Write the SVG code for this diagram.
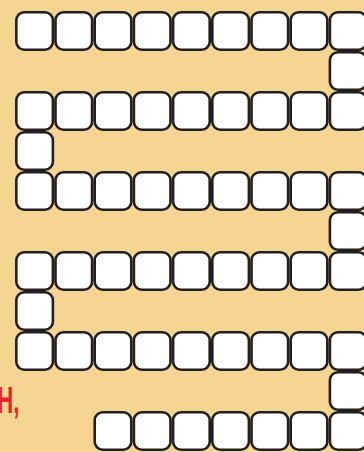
<svg xmlns="http://www.w3.org/2000/svg" xmlns:xlink="http://www.w3.org/1999/xlink" width="364" height="452" viewBox="0 0 364 452">
<style>
.t{fill:#fff;stroke:#231f20;stroke-width:2.6}
.lbl{font-family:"Liberation Sans",Arial,sans-serif;font-weight:bold;font-size:37px;fill:#e8212a}
</style>
<defs>
<rect id="tile" x="1.3" y="1.3" width="36.6" height="37.4" rx="8" ry="8" class="t"/>
</defs>
<rect width="364" height="452" fill="#f6d491"/>
<g id="row1">
<use xlink:href="#tile" x="15" y="11"/><use xlink:href="#tile" x="54.2" y="11"/><use xlink:href="#tile" x="93.4" y="11"/><use xlink:href="#tile" x="132.6" y="11"/><use xlink:href="#tile" x="171.8" y="11"/><use xlink:href="#tile" x="211" y="11"/><use xlink:href="#tile" x="250.2" y="11"/><use xlink:href="#tile" x="289.4" y="11"/><use xlink:href="#tile" x="328.6" y="11"/>
</g>
<g id="link1"><use xlink:href="#tile" x="328.6" y="51"/></g>
<g id="row2">
<use xlink:href="#tile" x="15" y="91"/><use xlink:href="#tile" x="54.2" y="91"/><use xlink:href="#tile" x="93.4" y="91"/><use xlink:href="#tile" x="132.6" y="91"/><use xlink:href="#tile" x="171.8" y="91"/><use xlink:href="#tile" x="211" y="91"/><use xlink:href="#tile" x="250.2" y="91"/><use xlink:href="#tile" x="289.4" y="91"/><use xlink:href="#tile" x="328.6" y="91"/>
</g>
<g id="link2"><use xlink:href="#tile" x="15" y="131"/></g>
<g id="row3">
<use xlink:href="#tile" x="15" y="171"/><use xlink:href="#tile" x="54.2" y="171"/><use xlink:href="#tile" x="93.4" y="171"/><use xlink:href="#tile" x="132.6" y="171"/><use xlink:href="#tile" x="171.8" y="171"/><use xlink:href="#tile" x="211" y="171"/><use xlink:href="#tile" x="250.2" y="171"/><use xlink:href="#tile" x="289.4" y="171"/><use xlink:href="#tile" x="328.6" y="171"/>
</g>
<g id="link3"><use xlink:href="#tile" x="328.6" y="211"/></g>
<g id="row4">
<use xlink:href="#tile" x="15" y="251"/><use xlink:href="#tile" x="54.2" y="251"/><use xlink:href="#tile" x="93.4" y="251"/><use xlink:href="#tile" x="132.6" y="251"/><use xlink:href="#tile" x="171.8" y="251"/><use xlink:href="#tile" x="211" y="251"/><use xlink:href="#tile" x="250.2" y="251"/><use xlink:href="#tile" x="289.4" y="251"/><use xlink:href="#tile" x="328.6" y="251"/>
</g>
<g id="link4"><use xlink:href="#tile" x="15" y="291"/></g>
<g id="row5">
<use xlink:href="#tile" x="15" y="331"/><use xlink:href="#tile" x="54.2" y="331"/><use xlink:href="#tile" x="93.4" y="331"/><use xlink:href="#tile" x="132.6" y="331"/><use xlink:href="#tile" x="171.8" y="331"/><use xlink:href="#tile" x="211" y="331"/><use xlink:href="#tile" x="250.2" y="331"/><use xlink:href="#tile" x="289.4" y="331"/><use xlink:href="#tile" x="328.6" y="331"/>
</g>
<g id="link5"><use xlink:href="#tile" x="328.6" y="371"/></g>
<g id="row6">
<use xlink:href="#tile" x="93.4" y="411"/><use xlink:href="#tile" x="132.6" y="411"/><use xlink:href="#tile" x="171.8" y="411"/><use xlink:href="#tile" x="211" y="411"/><use xlink:href="#tile" x="250.2" y="411"/><use xlink:href="#tile" x="289.4" y="411"/><use xlink:href="#tile" x="328.6" y="411"/>
</g>
<g id="label">
<text class="lbl" transform="translate(19.5,413) scale(0.6,1)" text-anchor="end">H,</text>
</g>
</svg>
